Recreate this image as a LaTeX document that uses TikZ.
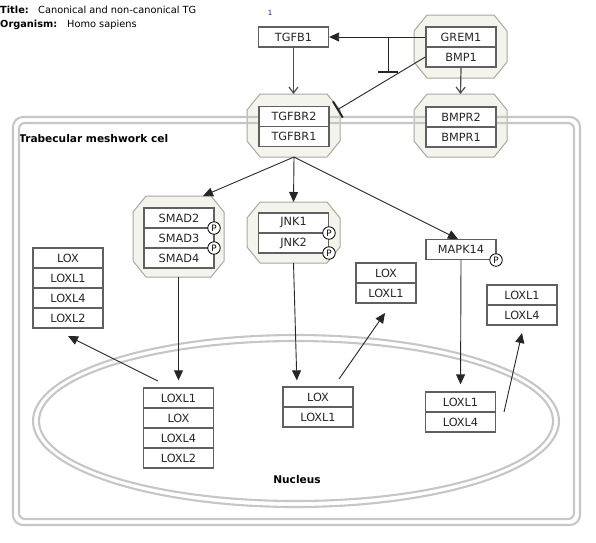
\documentclass[tikz,border=0pt]{standalone}
\usepackage{fontspec}
\setmainfont{DejaVu Sans}
\usetikzlibrary{arrows.meta,fit}
\definecolor{octfill}{HTML}{F4F4EC}
\definecolor{octdraw}{HTML}{A8A8A0}
\definecolor{boxdraw}{HTML}{606060}
\definecolor{compgray}{HTML}{C6C6C6}
\definecolor{numblue}{HTML}{1A1A8C}
\tikzset{
 gene/.style={draw=boxdraw, line width=1.3pt, fill=white, inner sep=0pt, minimum width=70pt, minimum height=20pt, font=\fontsize{11.3}{13}\selectfont, text=black!85},
 phos/.style={circle, draw=black, fill=white, line width=0.8pt, minimum size=12.5pt, inner sep=0pt, font=\fontsize{8.8}{9}\selectfont},
 octa/.style={draw=octdraw, fill=octfill, line width=1pt},
 comp/.style={draw=compgray, line width=2.1pt},
 act/.style={draw=black!85, line width=0.9pt, -{Triangle[length=10pt,width=9pt]}},
 conv/.style={draw=black!70, line width=1.2pt, -{Straight Barb[length=6pt,width=9pt]}},
 inhib/.style={draw=black!85, line width=0.9pt, -{Bar[width=20pt,line width=2.2pt]}},
 lbl/.style={inner sep=0pt, anchor=base west},
}
\newcommand{\octagonbox}[5]{%
 \path[octa] (#2+13,#3) -- (#4-13,#3) -- (#4,#3+16) -- (#4,#5-16) -- (#4-13,#5) -- (#2+13,#5) -- (#2,#5-16) -- (#2,#3+16) -- cycle;
 \node[inner sep=0pt, outer sep=0pt, fit={(#2,#3)(#4,#5)}] (#1) {};
}
\begin{document}
\begin{tikzpicture}[x=1pt,y=-1pt]
\useasboundingbox (0,0) rectangle (596,542);
% title
\node[lbl, font=\fontsize{9.8}{11}\selectfont\bfseries] (tlab) at (0,13) {Title:};
\node[lbl, font=\fontsize{9.8}{11}\selectfont] (ttxt) at (38,13) {Canonical and non-canonical TG};
\node[lbl, font=\fontsize{9.8}{11}\selectfont\bfseries] (olab) at (0,27) {Organism:};
\node[lbl, font=\fontsize{9.8}{11}\selectfont] (otxt) at (67,27) {Homo sapiens};
\node[inner sep=0pt, text=numblue, font=\fontsize{7}{8}\selectfont] (one) at (270,13) {1};
% octagons
\octagonbox{grp}{414}{15}{507}{78}
\octagonbox{tgfbr}{247}{94}{340}{157}
\octagonbox{bmpr}{414}{94}{507}{157}
\octagonbox{smad}{133}{196}{224}{277}
\octagonbox{jnk}{247}{202}{340}{263}
% compartment labels
\node[lbl, font=\fontsize{10.6}{12}\selectfont\bfseries] (celllab) at (19,142) {Trabecular meshwork cel};
\node[inner sep=0pt, anchor=base, font=\fontsize{10.6}{12}\selectfont\bfseries] (nuclab) at (297,483) {Nucleus};
% compartments
\draw[comp, rounded corners=10pt] (13,117) rectangle (580,525);
\draw[comp, rounded corners=6pt] (19,123) rectangle (574,519);
\draw[comp] (296,421) ellipse [x radius=263pt, y radius=86pt];
\draw[comp] (296,421) ellipse [x radius=257pt, y radius=80pt];
% coordinates for free ends
\coordinate (inhb) at (388,37);
\coordinate (inhe) at (388,73);
\coordinate (bmpinh) at (337,110);
\coordinate (tgfout) at (294,157);
\coordinate (mapin) at (458,239);
\coordinate (s1) at (158,381);
\coordinate (e1) at (68,336);
\coordinate (s2) at (339,379);
\coordinate (e2) at (385,313);
\coordinate (s3) at (504,412);
\coordinate (e3) at (522,333);
% genes
\node[gene] (tgfb1) at (293.5,37) {TGFB1};
\node[gene] (grem1) at (461,37) {GREM1};
\node[gene] (bmp1) at (461,57) {BMP1};
\node[gene] (tgfbr2) at (294,116.5) {TGFBR2};
\node[gene] (tgfbr1) at (294,136.5) {TGFBR1};
\node[gene] (bmpr2) at (461,117) {BMPR2};
\node[gene] (bmpr1) at (461,137) {BMPR1};
\node[gene] (smad2) at (179,218) {SMAD2};
\node[gene] (smad3) at (179,238) {SMAD3};
\node[gene] (smad4) at (179,258) {SMAD4};
\node[gene] (jnk1) at (293.5,223) {JNK1};
\node[gene] (jnk2) at (293.5,243) {JNK2};
\node[gene] (mapk) at (461,249.5) {MAPK14};
\node[gene, minimum width=60pt] (uloxa) at (386,273) {LOX};
\node[gene, minimum width=60pt] (uloxb) at (386,293) {LOXL1};
\node[gene] (rloxa) at (522,295) {LOXL1};
\node[gene] (rloxb) at (522,315) {LOXL4};
\node[gene] (lloxa) at (68,258) {LOX};
\node[gene] (lloxb) at (68,278) {LOXL1};
\node[gene] (lloxc) at (68,298) {LOXL4};
\node[gene] (lloxd) at (68,318) {LOXL2};
\node[gene] (nloxa) at (178.5,398) {LOXL1};
\node[gene] (nloxb) at (178.5,418) {LOX};
\node[gene] (nloxc) at (178.5,438) {LOXL4};
\node[gene] (nloxd) at (178.5,458) {LOXL2};
\node[gene] (mloxa) at (318,397) {LOX};
\node[gene] (mloxb) at (318,417) {LOXL1};
\node[gene] (qloxa) at (460.5,402) {LOXL1};
\node[gene] (qloxb) at (460.5,422) {LOXL4};
% phospho sites
\node[phos] (p1) at (214,228) {P};
\node[phos] (p2) at (214,248) {P};
\node[phos] (p3) at (329,233) {P};
\node[phos] (p4) at (329,253) {P};
\node[phos] (p5) at (496,260) {P};
% connectors
\draw[conv] (tgfb1.south) -- (tgfbr.north);
\draw[conv] (bmp1.south) -- (bmpr.north);
\draw[act] (grem1.west) -- (tgfb1.east);
\draw[inhib] (inhb) -- (inhe);
\draw[inhib, -{Bar[width=19pt,line width=2pt]}] (bmp1.west) -- (bmpinh);
\draw[act] (tgfout) -- (203,196);
\draw[act] (tgfout) -- (jnk.north);
\draw[act] (tgfout) -- (mapin);
\draw[act, shorten >=7pt] (smad.south) -- (nloxa.north);
\draw[act, shorten >=6pt] (jnk.south) -- (mloxa.north -| 297,0);
\draw[act, shorten >=7pt] (mapk.south) -- (qloxa.north);
\draw[act] (s1) -- (e1);
\draw[act] (s2) -- (e2);
\draw[act] (s3) -- (e3);
\end{tikzpicture}
\end{document}
